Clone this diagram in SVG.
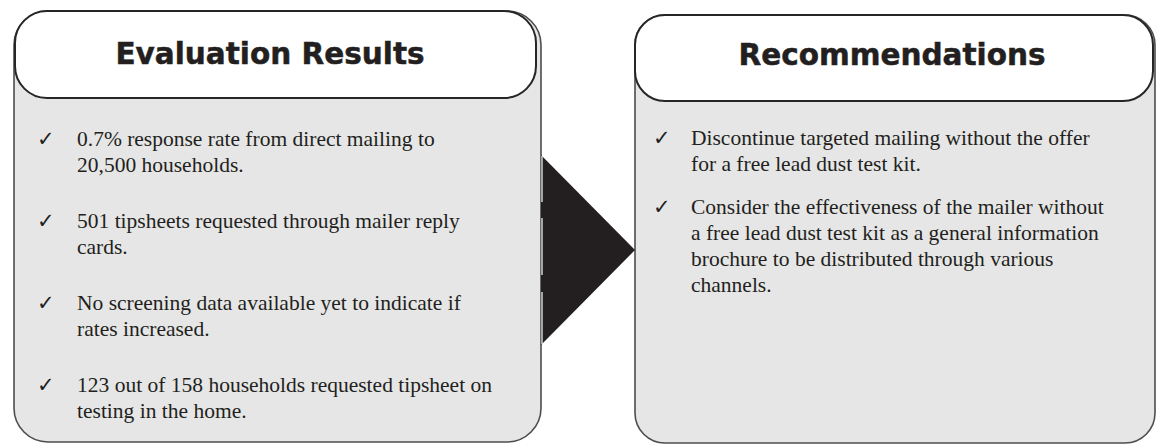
<svg xmlns="http://www.w3.org/2000/svg" width="1160" height="444" viewBox="0 0 1160 444">
  <style>
    .body { fill: #e6e6e6; stroke: #4d4d4d; stroke-width: 1.6; }
    .head { fill: #ffffff; stroke: #262626; stroke-width: 2; }
    .title { font-family: "DejaVu Sans", "Liberation Sans", sans-serif; font-weight: bold; font-size: 29.5px; fill: #231f20; stroke: #231f20; stroke-width: 0.5; text-anchor: middle; }
    .item { font-family: "Liberation Serif", "Times New Roman", serif; font-size: 21.5px; fill: #231f20; }
    .tick { font-family: "DejaVu Sans", sans-serif; font-size: 21px; fill: #231f20; }
  </style>
  <rect width="1160" height="444" fill="#ffffff"/>

  <!-- left panel -->
  <g id="evaluation-results">
    <rect class="body" x="14" y="11" width="527" height="431" rx="34" ry="34"/>
    <rect class="head" x="15" y="11" width="521" height="87" rx="32" ry="32"/>
    <text class="title" x="270" y="64">Evaluation Results</text>
    <text class="tick" x="37" y="146">✓</text>
    <text class="item" x="77" y="146">0.7% response rate from direct mailing to</text>
    <text class="item" x="77" y="172">20,500 households.</text>
    <text class="tick" x="37" y="228">✓</text>
    <text class="item" x="77" y="228">501 tipsheets requested through mailer reply</text>
    <text class="item" x="77" y="254">cards.</text>
    <text class="tick" x="37" y="310">✓</text>
    <text class="item" x="77" y="310">No screening data available yet to indicate if</text>
    <text class="item" x="77" y="336">rates increased.</text>
    <text class="tick" x="37" y="392">✓</text>
    <text class="item" x="77" y="392">123 out of 158 households requested tipsheet on</text>
    <text class="item" x="77" y="418">testing in the home.</text>
  </g>

  <!-- right panel -->
  <g id="recommendations">
    <rect class="body" x="635" y="15" width="520" height="428" rx="30" ry="30"/>
    <rect class="head" x="635" y="15" width="518" height="86" rx="30" ry="30"/>
    <text class="title" x="892" y="65">Recommendations</text>
    <text class="tick" x="653" y="145">✓</text>
    <text class="item" x="691" y="145">Discontinue targeted mailing without the offer</text>
    <text class="item" x="691" y="171">for a free lead dust test kit.</text>
    <text class="tick" x="653" y="214">✓</text>
    <text class="item" x="691" y="214">Consider the effectiveness of the mailer without</text>
    <text class="item" x="691" y="240">a free lead dust test kit as a general information</text>
    <text class="item" x="691" y="266">brochure to be distributed through various</text>
    <text class="item" x="691" y="292">channels.</text>
  </g>

  <!-- connector -->
  <g id="connectors">
    <polygon points="541,155 635,250 541,345" fill="#231f20"/>
    <g stroke="#ffffff" stroke-width="1.2">
      <line x1="542" y1="156" x2="542" y2="202"/>
      <line x1="542" y1="218" x2="542" y2="275"/>
      <line x1="542" y1="292" x2="542" y2="344"/>
    </g>
  </g>
</svg>
